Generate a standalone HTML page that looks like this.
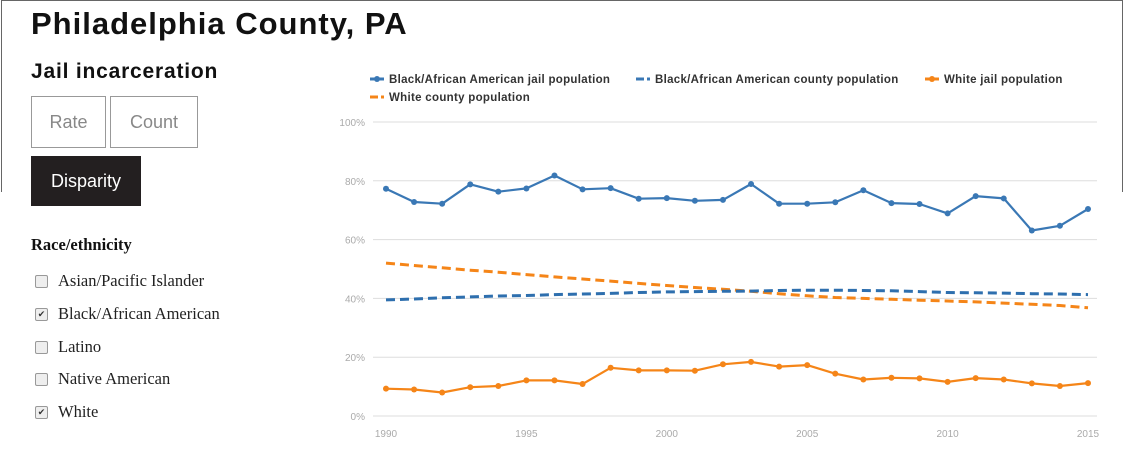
<!DOCTYPE html>
<html><head><meta charset="utf-8">
<style>
body{margin:0;width:1127px;height:454px;background:#fff;position:relative;overflow:hidden;font-family:"Liberation Sans",sans-serif;}
.frame{position:absolute;left:1px;top:0;width:1122px;height:192px;border:1px solid #666;border-bottom:none;box-sizing:border-box;}
h1{position:absolute;left:31px;top:6px;margin:0;font-size:31px;font-weight:bold;color:#111;letter-spacing:1px}
h2{position:absolute;left:31px;top:60px;margin:0;font-size:21px;font-weight:bold;color:#111;letter-spacing:0.8px}
.btn{position:absolute;box-sizing:border-box;border:1px solid #999;color:#888;font-size:18px;display:flex;align-items:center;justify-content:center;background:#fff}
.btn.on{background:#231f20;color:#fff;border-color:#231f20}
.race{position:absolute;left:31px;top:235px;font-family:"Liberation Serif",serif;font-size:16.5px;font-weight:bold;color:#111}
.cb{position:absolute;left:35px;font-family:"Liberation Serif",serif;font-size:16.5px;color:#222;display:flex;align-items:center}
.cb span.box{width:11px;height:11px;border:1px solid #999;border-radius:2px;background:#eee;margin-right:10px;font-size:9px;line-height:11px;text-align:center;color:#333}
</style></head><body>
<div class="frame"></div>
<h1>Philadelphia County, PA</h1>
<h2>Jail incarceration</h2>
<div class="btn" style="left:31px;top:96px;width:75px;height:52px">Rate</div>
<div class="btn" style="left:110px;top:96px;width:88px;height:52px">Count</div>
<div class="btn on" style="left:31px;top:156px;width:110px;height:50px">Disparity</div>
<div class="race">Race/ethnicity</div>
<div class="cb" style="top:271px"><span class="box"></span>Asian/Pacific Islander</div>
<div class="cb" style="top:304px"><span class="box">✔</span>Black/African American</div>
<div class="cb" style="top:337px"><span class="box"></span>Latino</div>
<div class="cb" style="top:369px"><span class="box"></span>Native American</div>
<div class="cb" style="top:402px"><span class="box">✔</span>White</div>
<svg id="chart" width="1127" height="454" style="position:absolute;left:0;top:0"></svg>
<script>
const years=[1990,1991,1992,1993,1994,1995,1996,1997,1998,1999,2000,2001,2002,2003,2004,2005,2006,2007,2008,2009,2010,2011,2012,2013,2014,2015];
const blackJail=[77.3,72.8,72.2,78.8,76.3,77.4,81.8,77.1,77.5,73.9,74.1,73.2,73.5,78.9,72.2,72.2,72.7,76.8,72.4,72.1,68.9,74.8,74.0,63.1,64.7,70.4];
const blackCounty=[39.5,39.8,40.2,40.5,40.8,41.0,41.3,41.5,41.7,42.0,42.2,42.3,42.4,42.5,42.7,42.8,42.8,42.7,42.6,42.3,42.0,41.9,41.8,41.6,41.5,41.3];
const whiteJail=[9.3,9.0,8.0,9.8,10.2,12.1,12.1,10.9,16.4,15.5,15.5,15.4,17.6,18.4,16.8,17.3,14.4,12.4,13.0,12.8,11.6,12.9,12.4,11.1,10.2,11.2];
const whiteCounty=[52.0,51.2,50.4,49.6,48.9,48.1,47.3,46.6,45.9,45.1,44.4,43.7,43.1,42.4,41.6,40.9,40.3,40.0,39.7,39.4,39.1,38.8,38.4,38.0,37.6,36.8];
const yTicks=[0,20,40,60,80,100];
const xTicks=[1990,1995,2000,2005,2010,2015];
const legendLabels=["Black/African American jail population","Black/African American county population","White jail population","White county population"];

const NS="http://www.w3.org/2000/svg";
const svg=document.getElementById('chart');
const X0=386,X1=1088,Y0=416,Y1=122,GL=373,GR=1097;
const xs=y=>X0+(y-1990)/(2015-1990)*(X1-X0);
const ys=v=>Y0-v/100*(Y0-Y1);
function mk(tag,attrs){const e=document.createElementNS(NS,tag);for(const k in attrs)e.setAttribute(k,attrs[k]);svg.appendChild(e);return e;}
yTicks.forEach(t=>{
  const l=mk('line',{x1:GL,x2:GR,y1:ys(t),y2:ys(t),stroke:'#ddd','stroke-width':1});
  
  
  const tx=mk('text',{x:365,y:ys(t)+4,'text-anchor':'end','font-size':10,fill:'#aaa','font-family':'Liberation Sans, sans-serif'});
  tx.textContent=t+'%';
  
  
});
xTicks.forEach(t=>{
  const tx=mk('text',{x:xs(t),y:437,'text-anchor':'middle','font-size':10,fill:'#aaa','font-family':'Liberation Sans, sans-serif'});
  tx.textContent=t;
  
  
});
function series(vals,color,dashed,name){
  const d=vals.map((v,i)=>(i?'L':'M')+xs(years[i]).toFixed(1)+','+ys(v).toFixed(1)).join(' ');
  const p=mk('path',{d:d,fill:'none',stroke:color,'stroke-width':dashed?3:2.2,'stroke-dasharray':dashed?'9,5':'none','stroke-linejoin':'round'});
  
  
  if(!dashed) vals.forEach((v,i)=>{
    const c=mk('circle',{cx:xs(years[i]),cy:ys(v),r:3,fill:color});
    
    
  });
}
series(whiteCounty,'#f58518',true,'white-county');
series(blackCounty,'#2e6fae',true,'black-county');
series(blackJail,'#3a78b5',false,'black-jail');
series(whiteJail,'#f58518',false,'white-jail');
const legPos=[[370,79],[636,79],[925,79],[370,97]];
const legColors=['#3a78b5','#3a78b5','#f58518','#f58518'];
const legDash=[false,true,false,true];
legendLabels.forEach((lab,i)=>{
  const [lx,ly]=legPos[i];
  const g=document.createElementNS(NS,'g');svg.appendChild(g);
  
  
  const l=document.createElementNS(NS,'line');
  const at={x1:lx,x2:lx+14,y1:ly,y2:ly,stroke:legColors[i],'stroke-width':3};
  if(legDash[i])at['stroke-dasharray']='8,3';
  for(const k in at)l.setAttribute(k,at[k]);g.appendChild(l);
  if(!legDash[i]){const c=document.createElementNS(NS,'circle');c.setAttribute('cx',lx+7);c.setAttribute('cy',ly);c.setAttribute('r',3);c.setAttribute('fill',legColors[i]);g.appendChild(c);}
  const t=document.createElementNS(NS,'text');
  t.setAttribute('x',lx+19);t.setAttribute('y',ly+4);t.setAttribute('font-size',11.5);t.setAttribute('font-weight','bold');t.setAttribute('fill','#333');t.setAttribute('letter-spacing','0.3');t.setAttribute('font-family','Liberation Sans, sans-serif');
  t.textContent=lab;g.appendChild(t);
});
</script>
</body></html>
